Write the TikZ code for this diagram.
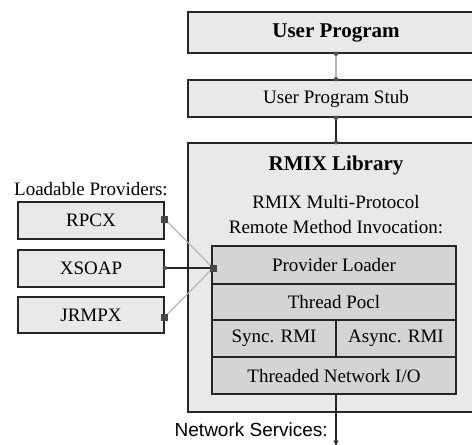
\documentclass[tikz,border=0pt]{standalone}
\usepackage{fontspec}
\setmainfont{Liberation Serif}
\newfontfamily\netfont{Liberation Sans}
\usetikzlibrary{arrows.meta}
\definecolor{outerfill}{gray}{0.915}
\definecolor{innerfill}{gray}{0.83}
\definecolor{edgecol}{gray}{0.15}
\definecolor{lightline}{gray}{0.72}
\tikzset{
  box/.style={draw=edgecol, line width=1.4pt, fill=outerfill, inner sep=0pt,
    font=\fontsize{19}{21}\selectfont},
  layer/.style={draw=edgecol, line width=1.4pt, fill=innerfill, inner sep=0pt,
    font=\fontsize{19}{21}\selectfont},
  txt/.style={inner sep=0pt, font=\fontsize{19}{21}\selectfont},
  bold/.style={inner sep=0pt, font=\fontsize{21}{23}\selectfont\bfseries},
  dotmark/.style={circle, fill=edgecol!80, inner sep=0pt, minimum size=4.5pt},
  sqmark/.style={rectangle, fill=edgecol!85, inner sep=0pt, minimum size=7pt},
  darkwire/.style={draw=edgecol, line width=1.3pt},
  greywire/.style={draw=lightline, line width=1.2pt}
}
\begin{document}
\begin{tikzpicture}[x=1pt,y=-1pt]
\clip (0,0) rectangle (472,445);
\fill[white] (0,0) rectangle (472,445);
% top boxes
\node[box, minimum width=296pt, minimum height=41pt] (up) at (336,32.5) {\bfseries\fontsize{21}{23}\selectfont User Program};
\node[box, minimum width=296pt, minimum height=37pt] (stub) at (336,98.5) {User Program Stub};
\node[box, minimum width=296pt, minimum height=269pt] (rmix) at (336,277.5) {};
\node[bold] (title) at (336,165) {RMIX Library};
\node[txt] (mp) at (336,202) {RMIX Multi-Protocol};
\node[txt] (rmi) at (336,227) {Remote Method Invocation:};
% layers
\node[layer, minimum width=244pt, minimum height=38pt] (pl) at (334,265) {Provider Loader};
\node[layer, minimum width=244pt, minimum height=36pt] (tp) at (334,302) {Thread Pocl};
\node[layer, minimum width=124pt, minimum height=37pt] (sync) at (274,338.5) {Sync. RMI};
\node[layer, minimum width=120pt, minimum height=37pt] (async) at (396,338.5) {Async. RMI};
\node[layer, minimum width=244pt, minimum height=37pt] (tnio) at (334,375.5) {Threaded Network I/O};
% providers
\node[txt, anchor=west] (lp) at (14,189) {Loadable Providers:};
\node[box, minimum width=146pt, minimum height=37pt] (rpcx) at (91,220.5) {RPCX};
\node[box, minimum width=146pt, minimum height=37pt] (xsoap) at (91,268.5) {XSOAP};
\node[box, minimum width=146pt, minimum height=36pt] (jrmpx) at (91,315) {JRMPX};
% connectors
\coordinate (plin) at (213,268);
\draw[greywire] (up.south -| 336,0) -- (stub.north -| 336,0);
\node[dotmark] at (up.south -| 336,0) {};
\node[dotmark] at (stub.north -| 336,0) {};
\draw[darkwire] (stub.south -| 336,0) -- (rmix.north -| 336,0);
\node[dotmark] at (stub.south -| 336,0) {};
\node[dotmark] at (rmix.north -| 336,0) {};
\draw[greywire] (rpcx.east |- 0,219) -- (plin);
\draw[greywire] (jrmpx.east |- 0,317) -- (plin);
\draw[darkwire] (xsoap.east |- plin) -- (plin);
\node[sqmark] at (rpcx.east |- 0,219) {};
\node[sqmark] at (jrmpx.east |- 0,317) {};
\node[dotmark] at (xsoap.east |- plin) {};
\node[sqmark] at (plin) {};
% network
\coordinate (netend) at (336,446);
\draw[darkwire, -{Stealth[length=6pt,width=5pt]}] (tnio.south -| 336,0) -- (netend);
\node[inner sep=0pt, anchor=east, font=\fontsize{19}{21}\selectfont\netfont] (ns) at (328,430) {Network Services:};
\end{tikzpicture}
\end{document}
